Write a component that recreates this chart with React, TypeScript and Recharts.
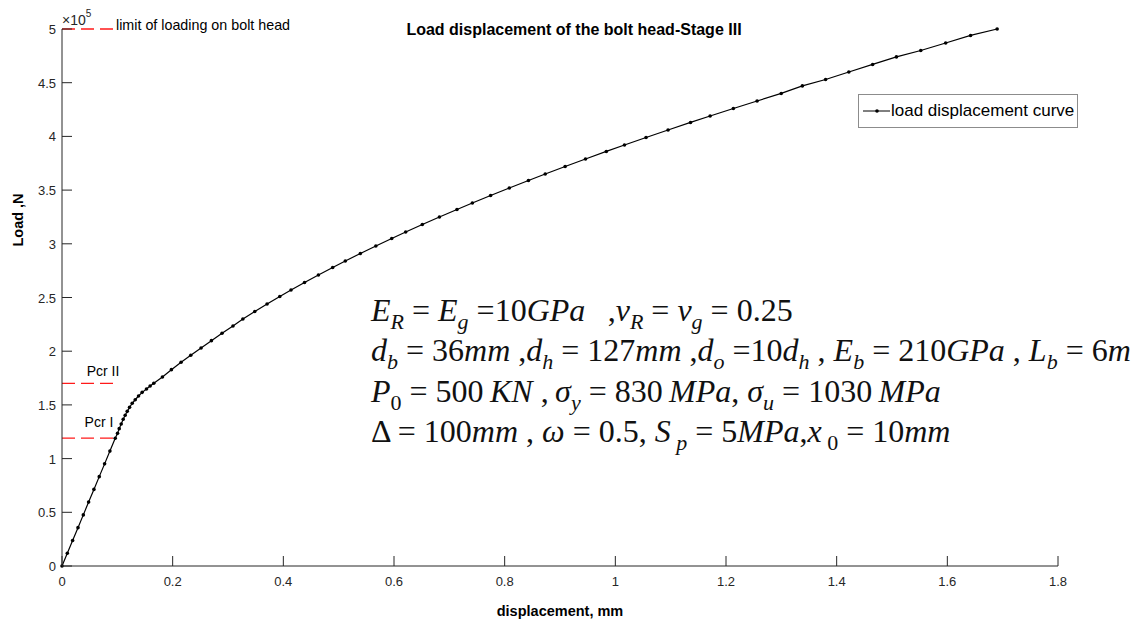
import { Legend, Line, LineChart, ReferenceLine, XAxis, YAxis } from "recharts";

// curve: displacement in mm, load in units of 1e5 N
const displacement = [
  0, 0.0096, 0.0192, 0.0289, 0.0385, 0.0481, 0.0577, 0.0673, 0.077, 0.0866, 0.0962,
  0.1004, 0.1034, 0.107, 0.1106, 0.1142, 0.1179, 0.1221, 0.1269, 0.1323, 0.1383, 0.1449, 0.1527, 0.1593, 0.1659,
  0.1815, 0.1977, 0.2152, 0.2327, 0.2513, 0.27, 0.2892, 0.309,
  0.3269, 0.3484, 0.3706, 0.3936, 0.4139, 0.4383, 0.4634, 0.4892, 0.512, 0.5392, 0.5672, 0.5959, 0.6211, 0.6512,
  0.6821, 0.7138, 0.7416, 0.7746, 0.8084, 0.843, 0.8733, 0.9093, 0.9461, 0.9837, 1.0165, 1.0555, 1.0953, 1.1359,
  1.1713, 1.2133, 1.2562, 1.2998,
  1.338, 1.38, 1.422, 1.465, 1.508, 1.552, 1.597, 1.642, 1.69,
];
const loadE5 = [
  0, 0.119, 0.238, 0.357, 0.476, 0.595, 0.713, 0.832, 0.951, 1.07, 1.189,
  1.235, 1.279, 1.322, 1.366, 1.403, 1.44, 1.477, 1.515, 1.548, 1.583, 1.617, 1.648, 1.676, 1.701,
  1.76, 1.828, 1.897, 1.962, 2.03, 2.098, 2.167, 2.235,
  2.3, 2.37, 2.44, 2.51, 2.57, 2.64, 2.71, 2.78, 2.84, 2.91, 2.98, 3.05, 3.11, 3.18,
  3.25, 3.32, 3.38, 3.45, 3.52, 3.59, 3.65, 3.72, 3.79, 3.86, 3.92, 3.99, 4.06, 4.13,
  4.19, 4.26, 4.33, 4.4,
  4.47, 4.53, 4.6, 4.67, 4.74, 4.8, 4.87, 4.94, 5.0,
];
const xTicks = [0, 0.2, 0.4, 0.6, 0.8, 1, 1.2, 1.4, 1.6, 1.8];
const yTicks = [0, 0.5, 1, 1.5, 2, 2.5, 3, 3.5, 4, 4.5, 5];
const limitLevel = 5;
const pcrLevels = [1.19, 1.7];
const markerEnd = 0.094;

const data = displacement.map((d, i) => ({ disp: d, load: loadE5[i] }));

const AXIS = "#262626";
const RED = "#ff1a1a";
const SANS = "'Liberation Sans', Arial, Helvetica, sans-serif";
const SERIF = "'Liberation Serif', 'Times New Roman', serif";
const TS = "\u2009"; // thin space

type Seg = [string, "i" | "r" | "si" | "sr"];
const eqLines: Seg[][] = [
  [["E", "i"], ["R", "si"], [" = ", "r"], ["E", "i"], ["g", "si"], [" =10", "r"], ["GPa", "i"], ["  " + TS + ",", "r"], ["\u03bd", "i"], ["R", "si"], [" = ", "r"], ["\u03bd", "i"], ["g", "si"], [" = 0.25", "r"]],
  [["d", "i"], ["b", "si"], [" = 36", "r"], ["mm", "i"], [" ,", "r"], ["d", "i"], ["h", "si"], [" = 127", "r"], ["mm", "i"], [" ,", "r"], ["d", "i"], ["o", "si"], [" =10", "r"], ["d", "i"], ["h", "si"], [" , ", "r"], ["E", "i"], ["b", "si"], [" = 210", "r"], ["GPa", "i"], [" , ", "r"], ["L", "i"], ["b", "si"], [" = 6", "r"], ["m", "i"]],
  [["P", "i"], ["0", "sr"], [" = 500" + TS, "r"], ["KN", "i"], [" ," + TS, "r"], ["\u03c3", "i"], ["y", "si"], [" = 830" + TS, "r"], ["MPa", "i"], [", ", "r"], ["\u03c3", "i"], ["u", "si"], [" = 1030" + TS, "r"], ["MPa", "i"]],
  [["\u0394 = 100", "r"], ["mm", "i"], [" , ", "r"], ["\u03c9", "i"], [" = 0.5, ", "r"], ["S", "i"], [" p", "si"], [" = 5", "r"], ["MPa", "i"], [",", "r"], ["x", "i"], [" 0", "sr"], [" = 10", "r"], ["mm", "i"]],
];
const eqBaselines = [321, 361, 402, 442];

function EqLine({ segs, y }: { segs: Seg[]; y: number }) {
  let wasSub = false;
  return (
    <text x={371} y={y} fontFamily={SERIF} fontSize={32} fill="#111" style={{ whiteSpace: "pre" }}>
      {segs.map(([t, k], i) => {
        const sub = k === "si" || k === "sr";
        const dy = sub && !wasSub ? 8 : !sub && wasSub ? -8 : 0;
        wasSub = sub;
        return (
          <tspan key={i} dy={dy} fontSize={sub ? 22 : 32} fontStyle={k === "i" || k === "si" ? "italic" : "normal"}>
            {t}
          </tspan>
        );
      })}
    </text>
  );
}

function XTick({ x, y, payload }: any) {
  return (
    <g>
      <line x1={x} x2={x} y1={y} y2={y - 10} stroke={AXIS} />
      <text x={x} y={y + 20} textAnchor="middle" fontSize={13} fontFamily={SANS} fill={AXIS}>
        {String(payload.value)}
      </text>
    </g>
  );
}

function YTick({ x, y, payload }: any) {
  return (
    <g>
      <line x1={x} x2={x + 10} y1={y} y2={y} stroke={AXIS} />
      <text x={x - 6} y={y + 5} textAnchor="end" fontSize={13} fontFamily={SANS} fill={AXIS}>
        {String(payload.value)}
      </text>
    </g>
  );
}

function LegendBox() {
  return (
    <div
      style={{
        boxSizing: "border-box",
        width: 220,
        height: 34,
        border: "1px solid #8c8c8c",
        background: "#fff",
        display: "flex",
        alignItems: "center",
        fontFamily: SANS,
        fontSize: 17,
        color: "#000",
        whiteSpace: "nowrap",
      }}
    >
      <svg width={29} height={10} style={{ marginLeft: 3, flex: "none" }}>
        <line x1={1} x2={28} y1={5} y2={5} stroke="#000" />
        <circle cx={15} cy={5} r={1.8} fill="#000" />
      </svg>
      <span>load displacement curve</span>
    </div>
  );
}

export default function App() {
  return (
    <div style={{ position: "relative", width: 1135, height: 624, background: "#fff" }}>
      <style>{"body{margin:0}"}</style>
      <LineChart width={1135} height={624} data={data} margin={{ top: 29, right: 77, bottom: 28, left: 22 }}>
        <XAxis
          type="number"
          dataKey="disp"
          domain={[0, 1.8]}
          ticks={xTicks}
          tickSize={0}
          tickMargin={0}
          tickLine={false}
          height={30}
          stroke={AXIS}
          tick={<XTick />}
          interval={0}
        />
        <YAxis
          type="number"
          domain={[0, 5]}
          ticks={yTicks}
          tickSize={0}
          tickMargin={0}
          tickLine={false}
          width={40}
          stroke={AXIS}
          tick={<YTick />}
          interval={0}
        />
        <ReferenceLine
          segment={[{ x: 0, y: limitLevel }, { x: markerEnd, y: limitLevel }]}
          stroke={RED}
          strokeWidth={1.3}
          strokeDasharray="13 6"
          ifOverflow="visible"
        />
        {pcrLevels.map((p) => (
          <ReferenceLine
            key={p}
            segment={[{ x: 0, y: p }, { x: markerEnd, y: p }]}
            stroke={RED}
            strokeWidth={1.3}
            strokeDasharray="13 6"
          />
        ))}
        <Line
          type="linear"
          dataKey="load"
          stroke="#000"
          strokeWidth={1.2}
          dot={{ r: 1.8, fill: "#000", stroke: "none" }}
          activeDot={false}
          isAnimationActive={false}
          name="load displacement curve"
        />
        <Legend
          layout="vertical"
          align="center"
          verticalAlign="middle"
          content={<LegendBox />}
          wrapperStyle={{ position: "absolute", left: 858, top: 94, width: 220, height: 34 }}
        />
      </LineChart>
      <svg width={1135} height={624} style={{ position: "absolute", left: 0, top: 0, pointerEvents: "none" }}>
        <text x={574} y={35} textAnchor="middle" fontFamily={SANS} fontSize={16} fontWeight="bold" fill="#000">
          Load displacement of the bolt head-Stage III
        </text>
        <text x={560} y={616} textAnchor="middle" fontFamily={SANS} fontSize={14.5} fontWeight="bold" fill="#000">
          displacement, mm
        </text>
        <text
          x={0}
          y={0}
          transform="translate(23 220) rotate(-90)"
          textAnchor="middle"
          fontFamily={SANS}
          fontSize={14.5}
          fontWeight="bold"
          fill="#000"
        >
          Load ,N
        </text>
        <text x={62} y={25} fontFamily={SANS} fontSize={14} fill={AXIS}>
          {"\u00d710"}
          <tspan fontSize={10} dy={-8}>
            5
          </tspan>
        </text>
        <text x={116} y={30} fontFamily={SANS} fontSize={14.3} fill="#000">
          limit of loading on bolt head
        </text>
        <text x={103} y={376} textAnchor="middle" fontFamily={SANS} fontSize={14} fill="#000">
          Pcr II
        </text>
        <text x={99} y={427} textAnchor="middle" fontFamily={SANS} fontSize={14} fill="#000">
          Pcr I
        </text>
        {eqLines.map((segs, i) => (
          <EqLine key={i} segs={segs} y={eqBaselines[i]} />
        ))}
      </svg>
    </div>
  );
}
